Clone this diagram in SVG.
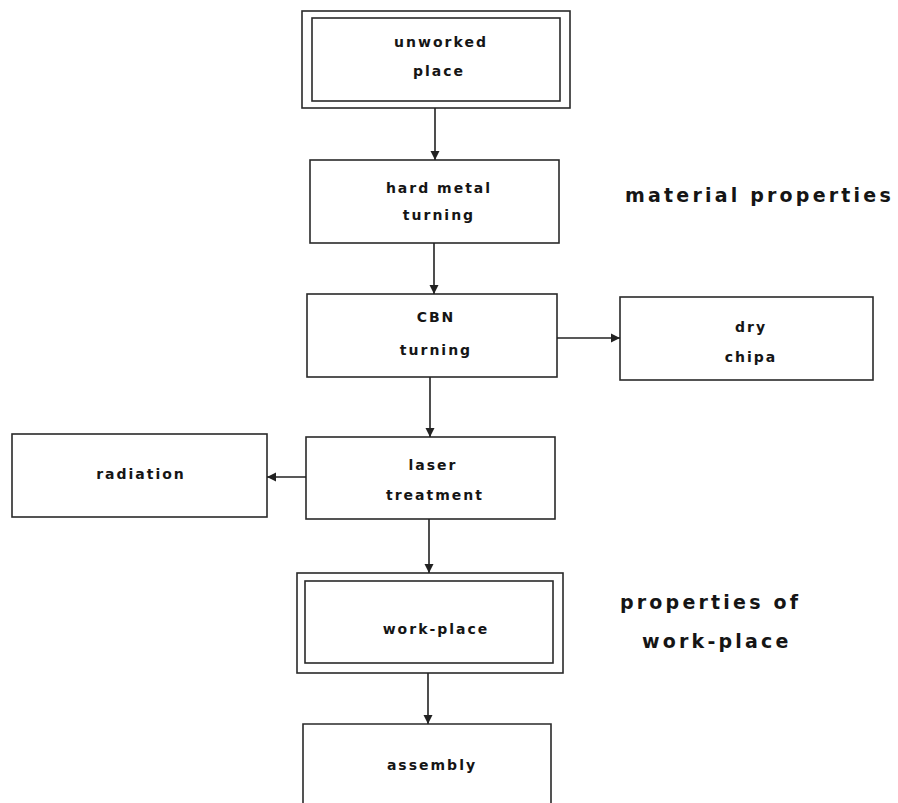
<svg xmlns="http://www.w3.org/2000/svg" width="898" height="803" viewBox="0 0 898 803">
<defs>
<marker id="arr" viewBox="0 0 10 10" refX="10" refY="5" markerWidth="9" markerHeight="10" markerUnits="userSpaceOnUse" orient="auto">
<path d="M0,0 L10,5 L0,10 z" fill="#222"/>
</marker>
<style>
.box{fill:none;stroke:#2a2a2a;stroke-width:1.6}
.t{font-family:"DejaVu Sans","Liberation Sans",Arial,sans-serif;font-weight:bold;font-size:14px;letter-spacing:2px;fill:#151515;text-anchor:middle}
.big{font-family:"DejaVu Sans","Liberation Sans",Arial,sans-serif;font-weight:bold;font-size:19px;letter-spacing:3.2px;fill:#151515}
.c{fill:none;stroke:#222;stroke-width:1.6;marker-end:url(#arr)}
</style>
</defs>
<rect width="898" height="803" fill="#fff"/>
<g id="unworked-place">
<rect class="box" x="302" y="11" width="268" height="97"/>
<rect class="box" x="312" y="18" width="248" height="83"/>
<text class="t" x="441" y="47">unworked</text>
<text class="t" x="439" y="76">place</text>
</g>
<g id="hard-metal-turning">
<rect class="box" x="310" y="160" width="249" height="83"/>
<text class="t" x="439" y="193">hard metal</text>
<text class="t" x="439" y="220">turning</text>
</g>
<g id="cbn-turning">
<rect class="box" x="307" y="294" width="250" height="83"/>
<text class="t" x="436" y="322">CBN</text>
<text class="t" x="436" y="355">turning</text>
</g>
<g id="dry-chips">
<rect class="box" x="620" y="297" width="253" height="83"/>
<text class="t" x="751" y="332">dry</text>
<text class="t" x="751" y="362">chipa</text>
</g>
<g id="laser-treatment">
<rect class="box" x="306" y="437" width="249" height="82"/>
<text class="t" x="433" y="470">laser</text>
<text class="t" x="435" y="500">treatment</text>
</g>
<g id="radiation">
<rect class="box" x="12" y="434" width="255" height="83"/>
<text class="t" x="141" y="479">radiation</text>
</g>
<g id="work-place">
<rect class="box" x="297" y="573" width="266" height="100"/>
<rect class="box" x="305" y="581" width="248" height="82"/>
<text class="t" x="436" y="634">work-place</text>
</g>
<g id="assembly">
<path class="box" d="M303,803 V724 H551 V803"/>
<text class="t" x="432" y="770">assembly</text>
</g>
<g id="labels">
<text class="big" x="625" y="202">material properties</text>
<text class="big" x="620" y="609">properties of</text>
<text class="big" x="642" y="648">work-place</text>
</g>
<g id="connectors">
<path class="c" d="M435,108 V160"/>
<path class="c" d="M434,243 V294"/>
<path class="c" d="M557,338 H620"/>
<path class="c" d="M430,377 V437"/>
<path class="c" d="M306,477 H267"/>
<path class="c" d="M429,519 V573"/>
<path class="c" d="M428,673 V724"/>
</g>
</svg>
